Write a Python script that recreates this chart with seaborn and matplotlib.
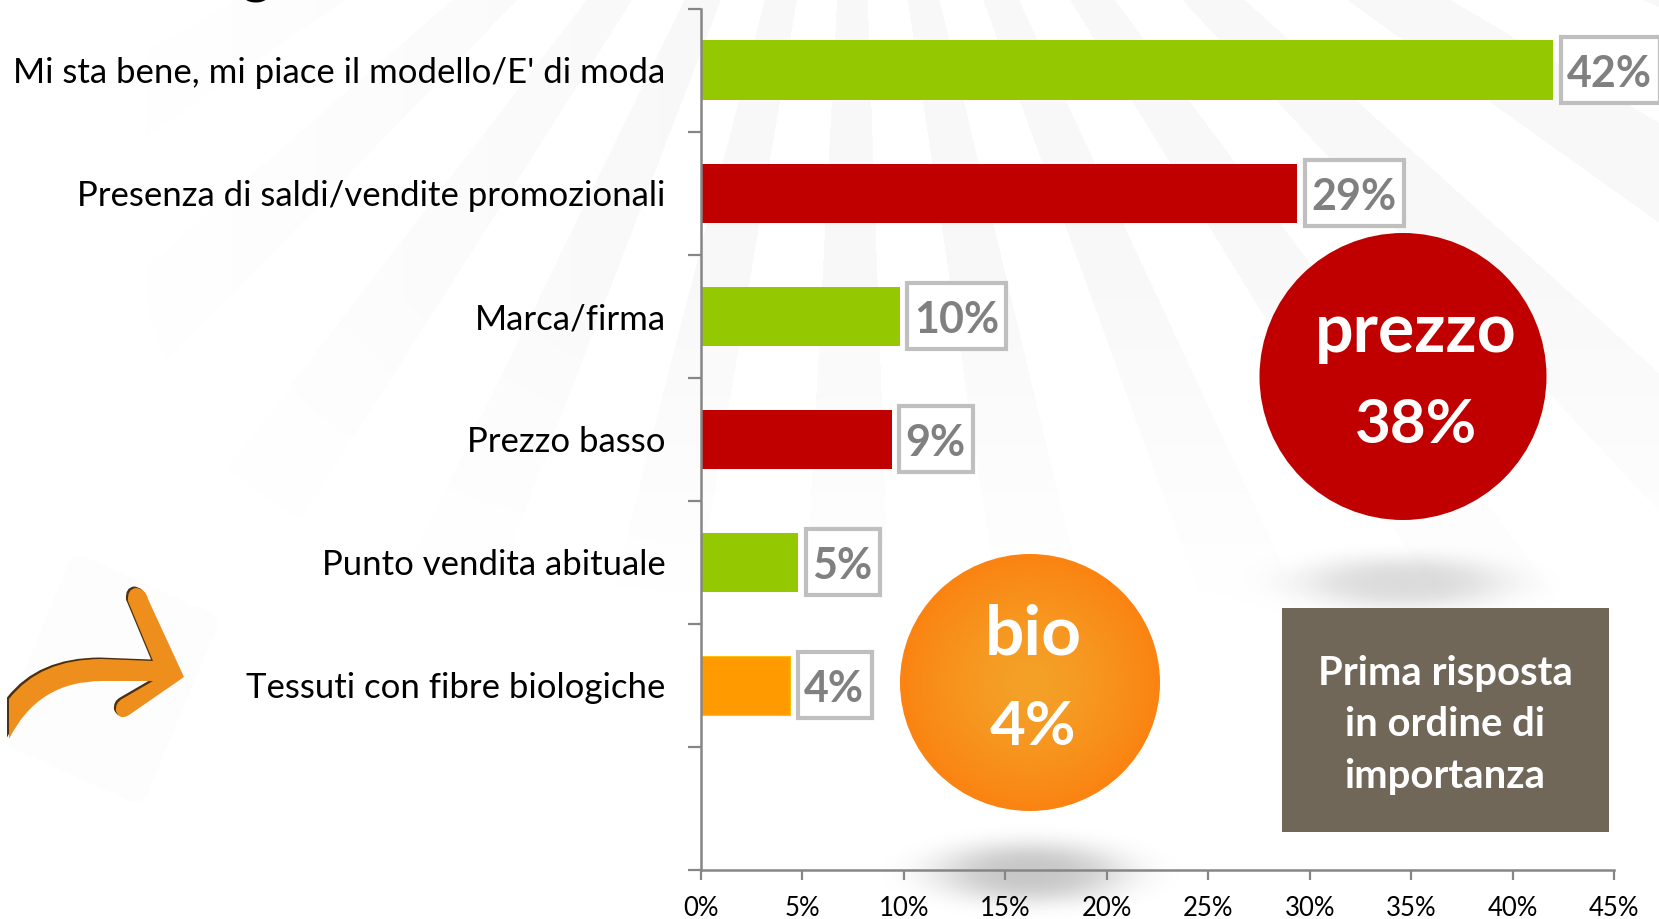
"""
Prima risposta in ordine di importanza: horizontal bars with the price/bio callouts.
"""
import numpy as np
import pandas as pd

import matplotlib
matplotlib.use('Agg')
import matplotlib.pyplot as plt
from matplotlib.patches import Ellipse, PathPatch, Polygon, Rectangle
from matplotlib.path import Path
from matplotlib.transforms import IdentityTransform, ScaledTranslation
import seaborn as sns

sns.set_style('white')
plt.rcParams['font.family'] = ['Lato', 'DejaVu Sans']

# ── Data ──────────────────────────────────────────────────────────────────────
MOTIVI = [
    "Mi sta bene, mi piace il modello/E' di moda",
    'Presenza di saldi/vendite promozionali',
    'Marca/firma',
    'Prezzo basso',
    'Punto vendita abituale',
    'Tessuti con fibre biologiche',
]
QUOTE = [42.0, 29.4, 9.8, 9.4, 4.8, 4.4]
ETICHETTE = ['42%', '29%', '10%', '9%', '5%', '4%']
COLORI = ['#94c800', '#c00000', '#94c800', '#c00000', '#94c800', '#ff9a00']
X_TICKS = [0, 5, 10, 15, 20, 25, 30, 35, 40, 45]

W, H = 1659, 920
GREY_AXIS = '#868686'

fig = plt.figure(figsize=(W / 100, H / 100), dpi=100, facecolor='white')

# ── Background: faint rays from above the top edge, plus two soft shadows ────
bg = fig.add_axes([0, 0, 1, 1], zorder=0)
yy, xx = np.mgrid[0:H, 0:W]
theta = np.degrees(np.arctan2(xx - 855.0, yy + 350.0))
rays = ((theta + 3.0) % 11.5) < 5.0
fade = np.clip((640 - yy) / 340.0, 0, 1) * np.clip((xx - 60) / 600.0, 0, 1)
img = 255.0 - 7.0 * rays * fade


def shadow(cx, cy, rx, ry, depth):
    r2 = ((xx - cx) / rx) ** 2 + ((yy - cy) / ry) ** 2
    return depth * np.exp(-r2 ** 1.5)


img -= shadow(1403, 583, 103, 26, 36)
img -= shadow(1030, 873, 94, 30, 56)
bg.imshow(np.clip(img, 0, 255), cmap='gray', vmin=0, vmax=255,
          extent=(0, W, H, 0), aspect='auto', interpolation='bilinear')
bg.set_axis_off()

# ── Bars ──────────────────────────────────────────────────────────────────────
ax = fig.add_axes([701 / W, 1 - 870.7 / H, 913 / W, 861.2 / H], zorder=1)
ax.patch.set_alpha(0)
df = pd.DataFrame({'motivo': MOTIVI, 'quota': QUOTE})
sns.barplot(data=df, y='motivo', x='quota', hue='motivo', palette=COLORI,
            legend=False, width=0.48, saturation=1, linewidth=0, ax=ax)
ax.patches[5].set_edgecolor('#ffc000')
ax.patches[5].set_linewidth(0.8)

ax.set_xlim(0, 45)
ax.set_ylim(6.5, -0.5)
ax.set_xlabel('')
ax.set_ylabel('')
ax.set_xticks(X_TICKS)
ax.set_xticklabels([f'{t}%' for t in X_TICKS], fontsize=18.5, color='black')
ax.set_yticks(range(len(MOTIVI)))
ax.set_yticklabels(MOTIVI, fontsize=25, color='black')
ax.set_yticks(np.arange(-0.5, 6.6, 1), minor=True)
ax.tick_params(axis='y', which='major', length=0, pad=25.5)
ax.tick_params(axis='y', which='minor', length=9.5, width=1.6, color=GREY_AXIS, left=True)
ax.tick_params(axis='x', which='major', length=7.5, width=1.6, color=GREY_AXIS, bottom=True, pad=11)
sns.despine(ax=ax, top=True, right=True)
for side in ['left', 'bottom']:
    ax.spines[side].set_color(GREY_AXIS)
    ax.spines[side].set_linewidth(1.8)

# nudge the category labels up a touch
for lab in ax.get_yticklabels():
    lab.set_transform(lab.get_transform() + ScaledTranslation(0, 1 / 100, fig.dpi_scale_trans))

# value labels: boxes are sized from the rendered text
renderer = fig.canvas.get_renderer()
for i, (val, lab) in enumerate(zip(QUOTE, ETICHETTE)):
    x_px, y_px = ax.transData.transform((val, i))
    t = ax.text(x_px + 14, y_px - 3, lab, transform=IdentityTransform(), ha='left', va='center',
                fontsize=31, fontweight='bold', color='#808080', zorder=4, clip_on=False)
    ext = t.get_window_extent(renderer)
    ax.add_patch(Rectangle((x_px + 7.5, y_px - 33), ext.width + 14, 66, transform=IdentityTransform(),
                           fc='white', ec='#bfbfbf', lw=3, zorder=3, clip_on=False))

# ── Overlay in pixel coordinates: callouts and arrow ─────────────────────────
ov = fig.add_axes([0, 0, 1, 1], zorder=2)
ov.set_xlim(0, W)
ov.set_ylim(H, 0)
ov.set_axis_off()
ov.patch.set_alpha(0)

# remnant of the cropped title
ov.text(256, -8, 'g', fontsize=40, fontweight='bold', color='black', ha='center', va='baseline')

ov.add_patch(Ellipse((1403, 377.5), 287, 287, fc='#c00000', ec='none'))
ov.text(1416, 333, 'prezzo', color='white', fontsize=49, fontweight='bold', ha='center', va='center')
ov.text(1416, 425, '38%', color='white', fontsize=44.5, fontweight='bold', ha='center', va='center')

gy, gx = np.mgrid[-1:1:200j, -1:1:200j]
glow = np.clip(np.hypot(gx, gy), 0, 1)[..., None]
inner, outer = np.array([0.957, 0.631, 0.157]), np.array([0.984, 0.514, 0.067])
bio_im = ov.imshow(inner + (outer - inner) * glow ** 1.5, extent=(900, 1160, 812, 555),
                   aspect='auto', zorder=2)
bio_im.set_clip_path(Ellipse((1030, 683.5), 260, 257, transform=ov.transData))
ov.set_xlim(0, W)
ov.set_ylim(H, 0)
ov.text(1033, 635, 'bio', color='white', fontsize=50, fontweight='bold', ha='center', va='center', zorder=3)
ov.text(1033, 727, '4%', color='white', fontsize=44.5, fontweight='bold', ha='center', va='center', zorder=3)

ov.add_patch(Rectangle((1282, 609), 327, 224, fc='#706758', ec='none'))
for y, riga in zip([674, 725, 777], ['Prima risposta', 'in ordine di', 'importanza']):
    ov.text(1445, y, riga, color='white', fontsize=28.8, fontweight='bold', ha='center', va='center')

# arrow at lower left
ov.add_patch(Polygon([(80, 570), (205, 625), (135, 790), (12, 735)], fc='#fdfdfd', ec='#fdfdfd',
                     lw=18, joinstyle='round', zorder=0.5))
verts = [
    (9, 700), (40, 660), (102, 660), (153, 662), (128, 602),
    (127, 590), (136, 589), (146, 590), (148, 600), (184, 678),
    (129, 716), (120, 722), (116, 712), (115, 704), (122, 700),
    (153, 682), (102, 682), (38, 682), (9, 740), (9, 700),
]
codes = [
    Path.MOVETO, Path.CURVE3, Path.CURVE3, Path.LINETO, Path.LINETO,
    Path.CURVE3, Path.CURVE3, Path.CURVE3, Path.CURVE3, Path.LINETO,
    Path.LINETO, Path.CURVE3, Path.CURVE3, Path.CURVE3, Path.CURVE3,
    Path.LINETO, Path.LINETO, Path.CURVE3, Path.CURVE3, Path.CLOSEPOLY,
]
shadow_verts = [(x - 2, y - 1.5) for x, y in verts]
ov.add_patch(PathPatch(Path(shadow_verts, codes), fc='#4a2f10', ec='none', zorder=1))
ov.add_patch(PathPatch(Path(verts, codes), fc='#ee8f1d', ec='none', zorder=1.1))

fig.savefig('out.png', dpi=100)
plt.close(fig)
